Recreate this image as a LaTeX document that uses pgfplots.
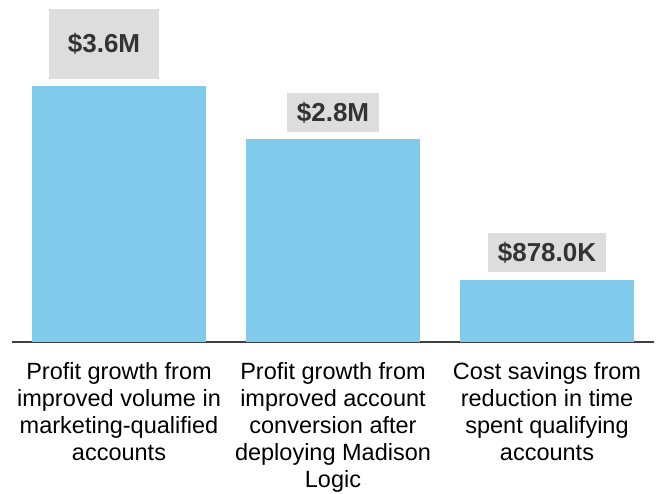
\documentclass[border=0pt]{standalone}
\usepackage{fontspec}
\setmainfont{Liberation Sans}
\usepackage{pgfplots}
\pgfplotsset{compat=1.18}
\definecolor{barblue}{RGB}{128,202,235}
\definecolor{boxgray}{RGB}{221,221,221}
\definecolor{labtext}{RGB}{51,51,51}
\definecolor{axisgray}{RGB}{64,64,64}
\begin{document}
\begin{tikzpicture}[x=1pt,y=1pt]
\begin{axis}[
  at={(0,0)}, anchor=south west,
  scale only axis, width=642pt, height=342pt,
  xmin=-0.5, xmax=2.5, ymin=0, ymax=4.81,
  axis x line=bottom, axis y line=none,
  x axis line style={draw=axisgray, line width=1.5pt, -},
  xtick={0,1,2},
  xticklabels={{Profit growth from\\improved volume in\\marketing-qualified\\accounts},
               {Profit growth from\\improved account\\conversion after\\deploying Madison\\Logic},
               {Cost savings from\\reduction in time\\spent qualifying\\accounts}},
  major tick length=0pt,
  xticklabel style={font=\fontsize{23.5}{27}\selectfont, align=center, anchor=north, inner sep=0pt, yshift=-20pt},
  ytick=\empty,
  clip=false,
  ybar, bar width=174pt, bar shift=0pt,
  every axis plot/.append style={fill=barblue, draw=none},
  nodes near coords style={font=\fontsize{26}{30}\selectfont\bfseries, text=labtext, fill=boxgray,
    inner xsep=9.5pt, inner ysep=0pt, minimum height=39pt, anchor=south, yshift=7pt},
]
\addplot[fill=barblue, draw=none, nodes near coords={\$3.6M},
  every node near coord/.append style={minimum width=110pt, minimum height=70pt, xshift=-15pt}]
  coordinates {(0,3.6)};
\addplot[fill=barblue, draw=none, nodes near coords={\$2.8M}]
  coordinates {(1,2.85)};
\addplot[fill=barblue, draw=none, nodes near coords={\$878.0K}]
  coordinates {(2,0.878)};
\end{axis}
\pgfresetboundingbox
\path[use as bounding box] (-12,-152) rectangle (647,342);
\end{tikzpicture}
\end{document}
